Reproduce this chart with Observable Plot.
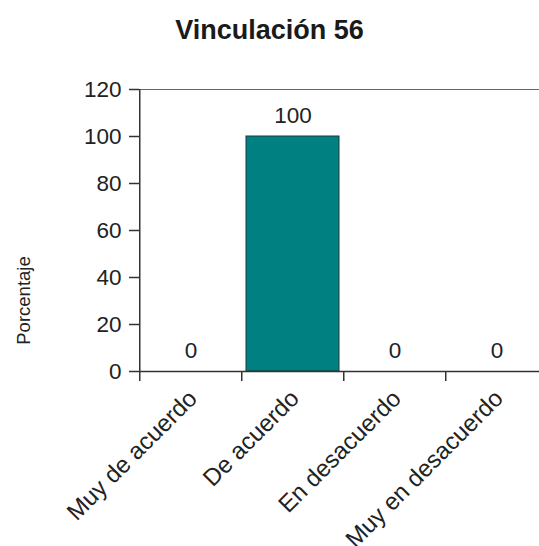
<!DOCTYPE html>
<html>
<head>
<meta charset="utf-8">
<script src="https://cdn.jsdelivr.net/npm/d3@7"></script>
<script src="https://cdn.jsdelivr.net/npm/@observablehq/plot@0.6"></script>
<style>
  html, body { margin: 0; padding: 0; background: #fff; overflow: hidden; width: 539px; height: 546px; }
  #title { width: 539px; height: 60px; line-height: 60px; text-align: center; font-family: "Liberation Sans", Arial, sans-serif; font-weight: bold; font-size: 27px; color: #1a1a1a; }
  #chart { width: 539px; height: 486px; overflow: hidden; }
  #chart svg { display: block; overflow: visible; max-width: none !important; height: 486px !important; }
</style>
</head>
<body>
<div id="title"></div>
<div id="chart"></div>
<script>
const title = "Vinculación 56";
const yLabel = "Porcentaje";
const categories = ["Muy de acuerdo", "De acuerdo", "En desacuerdo", "Muy en desacuerdo"];
const values = [0, 100, 0, 0];
const yTicks = [0, 20, 40, 60, 80, 100, 120];

const data = categories.map((c, i) => ({cat: c, value: values[i]}));
document.getElementById("title").textContent = title;

const W = 549, mL = 139, mR = 0;
const step = (W - mL - mR) / categories.length;

const chart = Plot.plot({
  width: W,
  height: 486,
  marginTop: 29,
  marginBottom: 175,
  marginLeft: mL,
  marginRight: mR,
  style: {fontFamily: "Liberation Sans, Arial, sans-serif", color: "#222", background: "transparent", maxWidth: "none"},
  x: {domain: categories, paddingInner: 0.085, paddingOuter: 0.0425, axis: null},
  y: {domain: [0, 120], axis: null},
  marks: [
    Plot.ruleY([120], {stroke: "#666", strokeWidth: 1}),
    Plot.barY(data, {x: "cat", y: "value", fill: "#008080", stroke: "#1b3b3b", strokeWidth: 1}),
    Plot.ruleY([0], {stroke: "#333", strokeWidth: 1.5}),
    Plot.ruleX([categories[0]], {x: d => d, dx: -step / 2, stroke: "#333", strokeWidth: 1.5}),
    Plot.axisY({ticks: yTicks, tickSize: 10, tickPadding: 8, fontSize: 22.5, label: null, stroke: "#333", strokeWidth: 1.5}),
    Plot.axisX({tickSize: 10, tickFormat: () => "", dx: -step / 2, label: null, stroke: "#333", strokeWidth: 1.5}),
    Plot.axisX({tickSize: 0, tickPadding: 23, tickRotate: -45, dx: 2, fontSize: 24, label: null}),
    Plot.text(data, {x: "cat", y: "value", text: d => String(d.value), dy: -21, fontSize: 22.5, fill: "#222"}),
    Plot.text([yLabel], {frameAnchor: "left", textAnchor: "middle", text: d => d, rotate: -90, dx: -115, dy: 70, fontSize: 18.5, fill: "#222"})
  ]
});
document.getElementById("chart").appendChild(chart);
</script>
</body>
</html>
